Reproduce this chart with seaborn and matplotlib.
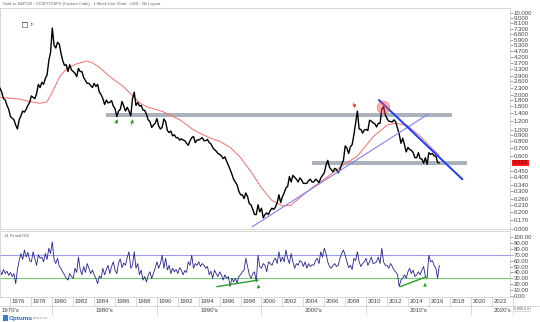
import numpy as np
import pandas as pd
import matplotlib
matplotlib.use("Agg")
import matplotlib.pyplot as plt
import matplotlib.transforms as mtransforms
from matplotlib.patches import Rectangle
import seaborn as sns

sns.set_style("white")
plt.rcParams["font.family"] = ["Liberation Sans", "DejaVu Sans"]

# ---------------- data ----------------
start_year = 1975.0
steps_per_year = 6
# Gold / S&P500 ratio, bi-monthly samples
ratio = [
    2.28, 2.10, 1.85, 1.80, 1.62, 1.50,   # 1975
    1.30, 1.26, 1.22, 1.10, 1.02, 1.22,   # 1976
    1.32, 1.45, 1.42, 1.50, 1.62, 1.72,   # 1977
    1.95, 1.90, 1.85, 2.05, 2.45, 2.30,   # 1978
    2.55, 2.45, 2.75, 2.95, 3.90, 4.60,   # 1979
    7.40, 5.30, 5.00, 5.60, 5.40, 4.50,   # 1980
    3.90, 3.55, 3.60, 3.15, 3.60, 3.25,   # 1981
    3.15, 3.05, 2.85, 3.35, 3.15, 3.15,   # 1982
    2.80, 2.65, 2.50, 2.50, 2.40, 2.30,   # 1983
    2.50, 2.35, 2.45, 2.10, 2.00, 1.85,   # 1984
    1.65, 1.80, 1.70, 1.72, 1.78, 1.60,   # 1985
    1.52, 1.30, 1.45, 1.50, 1.75, 1.60,   # 1986
    1.45, 1.56, 1.45, 1.32, 1.85, 2.10,   # 1987
    1.62, 1.72, 1.60, 1.62, 1.48, 1.47,   # 1988
    1.36, 1.22, 1.18, 1.05, 1.10, 1.14,   # 1989
    1.25, 1.08, 1.02, 1.05, 1.24, 1.18,   # 1990
    0.99, 0.95, 0.98, 0.89, 0.91, 0.86,   # 1991
    0.86, 0.82, 0.84, 0.82, 0.81, 0.77,   # 1992
    0.74, 0.81, 0.86, 0.88, 0.78, 0.82,   # 1993
    0.82, 0.84, 0.86, 0.81, 0.81, 0.83,   # 1994
    0.78, 0.76, 0.71, 0.68, 0.66, 0.63,   # 1995
    0.62, 0.60, 0.57, 0.59, 0.54, 0.50,   # 1996
    0.46, 0.42, 0.38, 0.36, 0.34, 0.30,   # 1997
    0.28, 0.28, 0.26, 0.29, 0.27, 0.235,  # 1998
    0.23, 0.21, 0.19, 0.19, 0.23, 0.20,   # 1999
    0.215, 0.178, 0.19, 0.196, 0.19, 0.205,  # 2000
    0.215, 0.21, 0.22, 0.24, 0.28, 0.24,  # 2001
    0.27, 0.29, 0.32, 0.33, 0.40, 0.36,   # 2002
    0.41, 0.395, 0.38, 0.36, 0.39, 0.375, # 2003
    0.35, 0.35, 0.35, 0.37, 0.38, 0.36,   # 2004
    0.36, 0.38, 0.37, 0.355, 0.39, 0.41,  # 2005
    0.43, 0.50, 0.55, 0.48, 0.46, 0.44,   # 2006
    0.47, 0.46, 0.43, 0.46, 0.51, 0.55,   # 2007
    0.73, 0.70, 0.63, 0.72, 0.75, 0.91,   # 2008
    1.15, 1.45, 1.02, 1.01, 0.94, 1.00,   # 2009
    1.01, 0.99, 1.21, 1.19, 1.15, 1.13,   # 2010
    1.06, 1.14, 1.14, 1.50, 1.58, 1.35,   # 2011
    1.25, 1.19, 1.18, 1.17, 1.22, 1.17,   # 2012
    1.04, 0.92, 0.77, 0.85, 0.75, 0.65,   # 2013
    0.71, 0.68, 0.67, 0.64, 0.58, 0.58,   # 2014
    0.64, 0.57, 0.565, 0.52, 0.58, 0.51,  # 2015
    0.64, 0.62, 0.63, 0.60, 0.60, 0.53,   # 2016
    0.523,                                # 2017
]

# 14 period RSI, same sample dates
rsi = [
    44, 36, 45, 38, 42, 35,  # 1975
    40, 33, 38, 21, 45, 60,  # 1976
    72, 62, 78, 66, 74, 60,  # 1977
    58, 75, 63, 52, 70, 64,  # 1978
    66, 58, 72, 62, 81, 72,  # 1979
    92, 62, 55, 64, 50, 47,  # 1980
    40, 36, 30, 27, 38, 33,  # 1981
    30, 47, 40, 66, 45, 36,  # 1982
    50, 40, 55, 47, 38, 44,  # 1983
    36, 30, 21, 34, 30, 47,  # 1984
    36, 45, 52, 38, 50, 58,  # 1985
    44, 38, 56, 63, 48, 56,  # 1986
    52, 66, 75, 47, 52, 75,  # 1987
    47, 55, 36, 44, 27, 33,  # 1988
    24, 35, 41, 30, 38, 47,  # 1989
    58, 47, 55, 69, 47, 64,  # 1990
    44, 52, 38, 47, 41, 45,  # 1991
    38, 48, 44, 36, 43, 40,  # 1992
    58, 52, 69, 47, 55, 52,  # 1993
    58, 50, 55, 52, 47, 50,  # 1994
    36, 42, 30, 44, 38, 33,  # 1995
    41, 36, 27, 36, 30, 33,  # 1996
    16, 30, 24, 30, 22, 33,  # 1997
    36, 41, 44, 64, 50, 36,  # 1998
    30, 38, 41, 24, 69, 50,  # 1999
    47, 55, 52, 41, 58, 55,  # 2000
    52, 60, 64, 55, 75, 58,  # 2001
    66, 58, 78, 64, 55, 72,  # 2002
    58, 47, 55, 52, 60, 58,  # 2003
    50, 58, 47, 55, 50, 53,  # 2004
    52, 60, 64, 55, 75, 66,  # 2005
    81, 72, 58, 50, 47, 52,  # 2006
    55, 50, 52, 64, 72, 78,  # 2007
    69, 58, 48, 52, 45, 64,  # 2008
    60, 75, 58, 50, 55, 58,  # 2009
    64, 52, 58, 66, 55, 56,  # 2010
    58, 66, 55, 81, 58, 52,  # 2011
    52, 47, 55, 50, 44, 41,  # 2012
    36, 16, 27, 30, 36, 30,  # 2013
    41, 47, 38, 44, 33, 36,  # 2014
    41, 36, 44, 50, 33, 31,  # 2015
    69, 58, 60, 52, 47, 30,  # 2016
    52,                      # 2017
]

# moving average (red)
ma_years = [1975.0, 1976.9, 1977.9, 1978.8, 1979.5, 1980.1, 1980.7, 1981.4, 1982.3,
            1983.3, 1983.9, 1984.6, 1985.5, 1986.8, 1988.4, 1989.0, 1990.6, 1992.2,
            1993.5, 1994.1, 1995.0, 1996.0, 1997.0, 1998.0, 1999.0, 2000.0, 2001.0,
            2002.0, 2002.8, 2004.0, 2005.0, 2006.0, 2006.5, 2007.5, 2008.5, 2009.1,
            2010.7, 2012.0, 2012.8, 2013.9, 2015.2, 2016.4, 2017.0]
ma_values = [1.90, 1.83, 1.74, 1.69, 1.74, 2.19, 2.85, 3.36, 3.66,
             3.88, 3.71, 3.36, 2.85, 2.34, 1.69, 1.58, 1.43, 1.22,
             1.00, 0.94, 0.86, 0.80, 0.71, 0.58, 0.44, 0.32, 0.25,
             0.225, 0.228, 0.28, 0.33, 0.38, 0.41, 0.48, 0.55, 0.59,
             0.88, 1.10, 1.14, 1.10, 0.88, 0.68, 0.61]

right_ticks = [10.0, 9.0, 8.1, 7.3, 6.6, 5.9, 5.3, 4.7, 4.2, 3.7, 3.3, 2.9, 2.6, 2.3,
               2.0, 1.8, 1.6, 1.4, 1.2, 1.0, 0.9, 0.8, 0.7, 0.6, 0.45, 0.4, 0.34,
               0.3, 0.26, 0.23, 0.2, 0.17]
last_value = 0.523
rsi_ticks = [0, 10, 20, 30, 40, 50, 60, 70, 80, 90, 100]
year_labels = list(range(1976, 2023, 2))
decade_labels = ["1970's", "1980's", "1990's", "2000's", "2010's", "2020's"]

# annotations (drawn objects)
band_upper = dict(x=[1985.13, 2018.21], lo=1.283, hi=1.388)
band_lower = dict(x=[2004.86, 2019.65], lo=0.503, hi=0.544)
trend_thin = dict(x=[1999.1, 2015.9], y=[0.149, 1.36])
trend_thick = dict(x=[2011.23, 2019.2], y=[1.80, 0.38])
circle_pt = dict(x=2011.59, y=1.56)
red_arrow = dict(tail=(2008.72, 1.80), tip=(2009.03, 1.46))
green_arrows = [dict(tail=(1985.99, 1.07), tip=(1986.31, 1.30)),
                dict(tail=(1987.52, 1.04), tip=(1987.74, 1.30))]
rsi_div_lines = [dict(x=[1995.72, 1999.69], y=[15.8, 27.0]),
                 dict(x=[2013.24, 2015.63], y=[15.8, 31.7])]
rsi_arrows = [dict(tail=(1999.75, 10.0), tip=(1999.65, 24.0)),
              dict(tail=(2015.63, 12.0), tip=(2015.63, 27.0))]

# ---------------- layout ----------------
W, H = 540, 322
PXY = 10.46  # pixels per year
fig = plt.figure(figsize=(W / 100, H / 100), dpi=100)


def fx(px):
    return px / W


def fy(py):
    return 1 - py / H


plot_w = 510
xlim = (start_year, start_year + plot_w / PXY)

t = start_year + np.arange(len(ratio)) / steps_per_year
df = pd.DataFrame({"year": t, "ratio": ratio, "rsi": rsi})
ma_df = pd.DataFrame({"year": ma_years, "ma": ma_values})

LBL = dict(fontsize=4.3, color="#444444")
SP = "#c9c9c9"

# ---------------- main panel ----------------
ax = fig.add_axes([0, fy(229), fx(plot_w), (229 - 8) / H])
ax.set_yscale("log")
ax.set_xlim(*xlim)
ax.set_ylim(0.1429, 10.98)

ax.fill_between(band_upper["x"], band_upper["lo"], band_upper["hi"],
                color="#aab3bc", lw=0, zorder=1)
ax.fill_between(band_lower["x"], band_lower["lo"], band_lower["hi"],
                color="#aab3bc", lw=0, zorder=1)

sns.lineplot(data=ma_df, x="year", y="ma", ax=ax, color="#ff6b6b", lw=0.7,
             zorder=2, legend=False)
sns.lineplot(data=df, x="year", y="ratio", ax=ax, color="black", lw=1.0,
             zorder=3, legend=False)

ax.plot(trend_thin["x"], trend_thin["y"], color="#7f7fff", lw=0.8, zorder=4)
ax.plot(trend_thick["x"], trend_thick["y"], color="#1a3cff", lw=1.4, zorder=4)
ax.scatter([circle_pt["x"]], [circle_pt["y"]], s=80, color="#ff4a4a", alpha=0.45,
           edgecolor="#e03a3a", linewidth=0.6, zorder=5)
ax.annotate("", xy=red_arrow["tip"], xytext=red_arrow["tail"],
            arrowprops=dict(arrowstyle="-|>", color="#ff3030", lw=0.5,
                            mutation_scale=5), zorder=6)
for ga in green_arrows:
    ax.annotate("", xy=ga["tip"], xytext=ga["tail"],
                arrowprops=dict(arrowstyle="-|>", color="#1f9f1f", lw=0.5,
                                mutation_scale=5), zorder=6)

ax.set_xticks([])
ax.yaxis.tick_right()
ax.minorticks_off()
ax.set_yticks(right_ticks + [0.1429])
ax.set_yticklabels([f"{v:.3f}" for v in right_ticks] + ["0.000"])
ax.tick_params(axis="y", which="both", length=2, width=0.5, color="#777777",
               pad=0.8, labelsize=4.3, labelcolor="#444444")
ax.set_xlabel("")
ax.set_ylabel("")
for s in ax.spines.values():
    s.set_color(SP)
    s.set_linewidth(0.5)

trans = mtransforms.blended_transform_factory(ax.transAxes, ax.transData)
ax.text(1.005, last_value, f"{last_value:.3f}", transform=trans, fontsize=4.3,
        color="#4a0000", va="center", ha="left",
        bbox=dict(fc="#ff1a1a", ec="none", pad=0.7))

# ---------------- RSI panel ----------------
ar = fig.add_axes([0, fy(297), fx(plot_w), (297 - 231) / H])
ar.set_xlim(*xlim)
ar.set_ylim(-1.7, 110.2)
ar.axhline(70, color="#9d9de8", lw=0.8, zorder=1)
ar.axhline(30, color="#74cf74", lw=0.8, zorder=1)
sns.lineplot(data=df, x="year", y="rsi", ax=ar, color="#23238f", lw=0.6,
             zorder=2, legend=False)
for dl in rsi_div_lines:
    ar.plot(dl["x"], dl["y"], color="#2a9d2a", lw=1.0, zorder=3)
for ra in rsi_arrows:
    ar.annotate("", xy=ra["tip"], xytext=ra["tail"],
                arrowprops=dict(arrowstyle="-|>", color="#1f9f1f", lw=0.4,
                                mutation_scale=5), zorder=4)
ar.set_xticks([])
ar.yaxis.tick_right()
ar.set_yticks(rsi_ticks)
ar.set_yticklabels([f"{v:.2f}" for v in rsi_ticks])
ar.tick_params(axis="y", length=2, width=0.5, color="#777777", pad=0.8,
               labelsize=4.3, labelcolor="#444444")
ar.set_xlabel("")
ar.set_ylabel("")
for s in ar.spines.values():
    s.set_color(SP)
    s.set_linewidth(0.5)

# ---------------- date strip ----------------
axx = fig.add_axes([0, fy(315), 1, (315 - 297) / H])
axx.set_xlim(start_year, start_year + W / PXY)
axx.set_ylim(0, 2)
axx.axis("off")
axx.axhline(1, color=SP, lw=0.5)
axx.axhline(0.02, color=SP, lw=0.5)
for yr in year_labels:
    axx.plot([yr, yr], [1, 2], color=SP, lw=0.5)
    axx.text(yr + 0.15, 1.5, str(yr), ha="left", va="center", **LBL)
axx.plot([2024, 2024], [1, 2], color=SP, lw=0.5)
for dec in [1980, 1990, 2000, 2010, 2020, 2024]:
    axx.plot([dec, dec], [0, 1], color=SP, lw=0.5)
axx.text(1975.15, 0.5, decade_labels[0], ha="left", va="center", **LBL)
for lab, c in zip(decade_labels[1:5], [1985, 1995, 2005, 2015]):
    axx.text(c, 0.5, lab, ha="center", va="center", **LBL)
axx.text(2023.85, 0.5, decade_labels[5], ha="right", va="center", **LBL)

# ---------------- chrome ----------------
fig.text(fx(3), fy(3.5),
         "Gold vs S&P500 - GCSPOT/SPX (Custom Code) - 1 Week Line Chart - USD - No Layout",
         fontsize=2.9, color="#666666", va="center", ha="left")
fig.text(fx(4), fy(236), "14 Period RSI", fontsize=2.9, color="#666666",
         va="center", ha="left")
fig.patches.append(Rectangle((fx(22), fy(27)), fx(5), 5 / H, transform=fig.transFigure,
                             fc="white", ec="#666666", lw=0.5))
fig.patches.append(Rectangle((fx(22), fy(23.3)), fx(5), 1.5 / H, transform=fig.transFigure,
                             fc="#666666", ec="none"))
fig.text(fx(30), fy(24.5), "JF", fontsize=3.2, color="#555555", va="center")
fig.patches.append(Rectangle((fx(3), fy(321)), fx(5), 6 / H, transform=fig.transFigure,
                             fc="#2a7fd6", ec="none"))
fig.text(fx(9), fy(318.3), "Optuma", fontsize=4.6, color="#1f6fc6",
         fontweight="bold", va="center", ha="left")
fig.text(fx(33), fy(317.5), "optuma.com", fontsize=2.0, color="#999999",
         va="center", ha="left")
fig.text(fx(514), fy(308.5), "5.000 ≡ ▾", fontsize=2.6, color="#555555",
         va="center", ha="left",
         bbox=dict(fc="white", ec="#bbbbbb", lw=0.4, pad=0.5))

fig.savefig("out.png", dpi=100)
